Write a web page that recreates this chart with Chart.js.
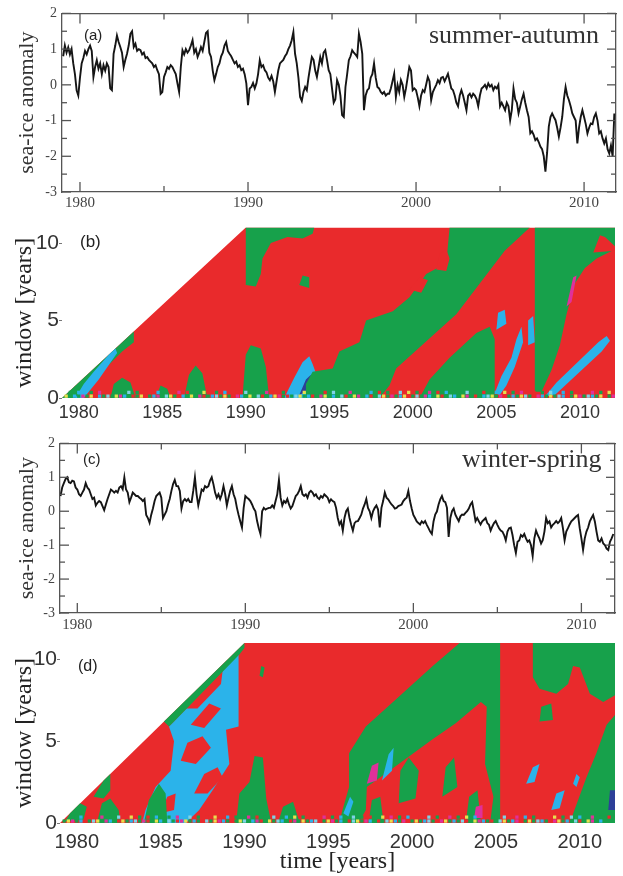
<!DOCTYPE html>
<html><head><meta charset="utf-8">
<script src="https://cdn.jsdelivr.net/npm/chart.js@4.4.1/dist/chart.umd.min.js"></script>
<style>
html,body{margin:0;padding:0;background:#fff;}
body{width:623px;height:876px;position:relative;overflow:hidden;}
canvas{position:absolute;left:0;}
.lab{position:absolute;white-space:nowrap;line-height:1;color:#222;}
.sans{font-family:'Liberation Sans',Arial,sans-serif;}
.serif{font-family:'Liberation Serif','Times New Roman',serif;color:#333;}
</style></head><body>
<canvas id="ca" width="623" height="215" style="top:0px"></canvas>
<canvas id="cb" width="623" height="215" style="top:215px"></canvas>
<canvas id="cc" width="623" height="210" style="top:430px"></canvas>
<canvas id="cd" width="623" height="246" style="top:630px"></canvas>
<div class="lab sans" style="left:84px;top:27px;font-size:15px">(a)</div>
<div class="lab serif" style="left:429px;top:22px;font-size:26px">summer-autumn</div>
<div class="lab sans" style="left:80px;top:233px;font-size:17px">(b)</div>
<div class="lab sans" style="left:83px;top:451px;font-size:15px">(c)</div>
<div class="lab serif" style="left:462px;top:446px;font-size:26px">winter-spring</div>
<div class="lab sans" style="left:78px;top:658px;font-size:16px">(d)</div>
<script>
// ---------------- time series (anomaly, every 0.1 year from 1979.0) ----------------
const seriesStart = 1979.0, seriesStep = 0.1;
const summerAutumn = [
 0.8,1.1,0.9,1.05,0.85,1.0,0.6,0.3,-0.15,-0.3,
 0.2,0.6,0.75,0.95,0.85,1.0,1.1,0.95,0.22,0.5,
 0.69,0.45,0.6,0.3,0.55,0.4,0.6,0.5,-0.1,-0.15,
 0.87,1.1,1.38,1.2,1.06,0.9,0.5,0.7,0.87,1.1,
 1.43,1.5,1.06,1.15,0.95,1.0,0.97,0.85,0.9,0.75,
 0.78,0.7,0.65,0.6,0.5,0.55,0.41,0.3,-0.25,-0.2,
 0.22,0.35,0.5,0.45,0.55,0.5,0.4,0.3,0.04,-0.2,
 0.5,0.97,0.85,1.0,0.9,0.97,1.1,1.25,0.9,1.0,
 0.78,0.9,1.06,0.95,1.2,1.45,1.5,0.9,0.78,0.4,
 0.13,0.3,0.5,0.6,0.8,0.9,1.1,1.2,0.95,0.87,
 0.8,0.7,0.6,0.65,0.5,0.55,0.41,0.45,0.3,0.04,
 -0.57,-0.1,-0.06,0.05,-0.1,0.04,0.3,0.69,0.5,0.55,
 0.41,0.35,0.2,0.13,0.25,0.1,-0.2,0.1,0.4,0.6,
 0.65,0.7,0.8,0.87,1.0,1.1,1.25,1.48,0.87,0.6,
 0.2,-0.34,-0.45,-0.2,-0.06,-0.15,0.2,0.5,0.78,0.7,
 0.4,0.22,0.5,0.78,0.6,0.9,0.97,0.7,0.41,0.3,
 -0.1,-0.5,-0.4,0.13,0.0,-0.3,-0.85,-0.9,-0.06,0.3,
 0.69,0.8,0.97,0.9,0.85,0.78,1.43,1.2,0.87,-0.71,
 -0.3,-0.15,-0.1,0.2,0.3,0.6,0.2,-0.06,-0.1,-0.2,
 -0.25,-0.2,-0.3,-0.25,-0.25,-0.1,0.1,0.31,-0.34,0.0,
 -0.2,0.13,0.0,-0.34,-0.1,0.2,0.5,0.4,-0.15,-0.1,
 -0.15,-0.35,-0.6,-0.3,-0.15,-0.2,0.0,0.22,0.1,-0.43,
 -0.2,-0.1,0.0,0.13,0.05,0.2,0.22,0.1,0.2,0.31,
 0.1,-0.1,-0.15,-0.3,-0.5,-0.6,-0.3,-0.15,-0.3,-0.5,
 -0.71,-0.3,-0.25,-0.35,-0.25,-0.3,-0.4,-0.6,-0.3,-0.1,
 -0.06,0.0,-0.1,0.04,-0.05,0.0,-0.15,-0.05,-0.1,0.0,
 -0.6,-0.5,-0.6,-0.71,-0.5,-0.6,-0.99,-0.7,-0.1,-0.4,
 -0.5,-0.8,-0.6,-0.4,-0.25,-0.5,-0.71,-0.9,-1.36,-1.3,
 -1.4,-1.55,-1.5,-1.6,-1.73,-1.8,-2.0,-2.43,-1.9,-1.17,
 -0.9,-0.8,-0.9,-0.99,-1.2,-1.45,-1.2,-0.9,-0.4,-0.06,
 -0.3,-0.43,-0.6,-0.8,-0.9,-1.0,-1.64,-1.2,-0.9,-0.71,
 -0.9,-1.1,-1.36,-1.2,-1.08,-1.1,-0.9,-0.8,-1.0,-1.36,
 -1.3,-1.5,-1.64,-1.5,-1.8,-1.92,-1.7,-2.0,-0.8
];
const winterSpring = [
 0.45,0.7,0.83,0.95,1.0,0.85,0.83,0.9,0.88,0.7,
 0.64,0.5,0.45,0.55,0.64,0.83,0.7,0.64,0.5,0.36,
 0.4,0.17,0.25,0.3,0.27,0.15,0.03,0.2,0.36,0.5,
 0.64,0.6,0.55,0.6,0.55,0.7,0.74,0.65,1.0,0.64,
 0.55,0.27,0.4,0.55,0.5,0.45,0.45,0.4,0.36,0.3,
 0.36,-0.11,-0.2,-0.34,-0.1,0.08,0.3,0.45,0.5,0.55,
 0.4,-0.2,-0.1,0.0,0.2,0.36,0.6,0.8,0.92,0.74,
 0.74,0.6,0.08,0.3,0.36,0.3,0.36,0.27,0.27,0.6,
 1.0,0.5,0.17,0.4,0.64,0.6,0.74,0.7,0.74,0.9,
 1.0,0.8,0.55,0.4,0.5,0.36,0.5,0.74,0.5,0.17,
 0.4,0.6,0.74,0.5,0.36,0.1,-0.11,-0.3,-0.48,0.1,
 0.45,0.4,0.36,0.3,0.2,0.08,0.0,-0.29,-0.5,-0.67,
 0.0,0.1,0.05,0.08,0.1,0.1,0.17,0.1,0.3,0.5,
 0.92,0.4,0.17,0.3,0.25,0.36,0.2,0.08,0.15,0.3,
 0.45,0.5,0.6,0.74,0.5,0.45,0.5,0.4,0.55,0.6,
 0.55,0.45,0.5,0.4,0.36,0.45,0.4,0.5,0.45,0.4,
 0.27,0.35,0.3,0.27,0.1,-0.2,-0.39,-0.3,-0.57,-0.2,
 0.0,0.08,-0.2,-0.4,-0.57,-0.35,-0.3,-0.29,-0.2,-0.1,
 0.08,0.2,0.36,0.1,0.0,-0.2,0.0,0.1,0.17,0.05,
 -0.48,0.1,0.3,0.55,0.4,0.35,0.27,0.2,0.15,0.08,
 0.1,0.15,0.17,0.2,0.3,0.36,0.4,0.6,0.3,0.08,
 -0.11,-0.2,-0.3,-0.35,-0.39,-0.3,-0.35,-0.29,-0.4,-0.5,
 -0.6,-0.67,-0.3,-0.1,-0.01,0.2,0.35,0.45,0.3,0.27,
 0.1,-0.76,-0.2,0.0,0.08,-0.1,-0.2,-0.29,-0.15,-0.1,
 -0.11,-0.05,0.0,0.08,0.2,0.27,0.0,-0.29,-0.2,-0.3,
 -0.39,-0.3,-0.25,-0.2,-0.35,-0.4,-0.57,-0.45,-0.35,-0.29,
 -0.4,-0.5,-0.57,-0.6,-0.7,-0.86,-0.6,-0.5,-0.48,-0.7,
 -1.0,-1.23,-0.9,-0.86,-0.7,-0.75,-0.67,-0.8,-0.9,-0.86,
 -1.0,-1.32,-0.8,-0.57,-0.7,-0.8,-0.95,-0.85,-0.6,-0.2,
 -0.35,-0.3,-0.48,-0.4,-0.35,-0.29,-0.35,-0.3,-0.2,-0.5,
 -0.86,-0.6,-0.5,-0.39,-0.3,-0.25,-0.2,-0.15,-0.11,-0.5,
 -0.8,-1.14,-0.8,-0.6,-0.48,-0.3,-0.2,-0.11,-0.3,-0.6,
 -0.86,-0.9,-0.8,-0.95,-1.0,-1.1,-1.14,-0.9,-0.8,-0.67
];
// ---------------- tick labels ----------------
const lineYearTicks = [1980, 1990, 2000, 2010];
const lineYearMinor = [1985, 1995, 2005];
const anomalyTicks = [-3, -2, -1, 0, 1, 2];
const anomalyMinor = [-2.5, -1.5, -0.5, 0.5, 1.5];
const heatYearTicks = [1980, 1985, 1990, 1995, 2000, 2005, 2010];
const windowTicks = [0, 5, 10];

// ---------------- window-analysis regions (time, window) ----------------
const bTriangle = [[1979,0],[1990,11],[2012.1,11],[2012.1,0]];
const bGreenEdge = [[1979,0],[1983.3,4.3],[1983.3,3.6],[1982.6,3.0],[1981.5,1.8],[1980.5,0.5],[1980.2,0]];
const bBlueEdge = [[1979.8,0],[1980.3,0],[1981.2,1.2],[1982.3,2.9],[1982.2,3.2],[1981.8,2.8],[1980.9,1.7],[1980.3,0.9]];
const bGreen1 = [[1981.9,0],[1982.1,0.9],[1982.6,1.3],[1983.1,1.0],[1983.4,0]];
const bGreen2 = [[1984.6,0],[1984.9,0.8],[1985.3,0.6],[1985.5,0]];
const bGreen3 = [[1986.3,0],[1986.6,1.5],[1987.0,2.1],[1987.4,1.6],[1987.7,0]];
const bGreen4 = [[1989.8,0],[1990.0,2.8],[1990.3,3.4],[1990.9,3.2],[1991.2,2.0],[1991.4,0]];
const bGreenTop = [[1990.0,11],[1990.0,7.3],[1990.6,7.2],[1990.9,8.0],[1991.0,9.0],[1991.5,10.0],[1992.5,10.4],[1993.4,10.3],[1994.0,10.6],[1994.1,11]];
const bGreenIsle = [[1993.2,7.3],[1993.4,7.9],[1993.8,7.8],[1993.8,7.1]];
const bBlueMid = [[1992.3,0],[1992.9,1.3],[1993.4,2.3],[1993.8,2.7],[1994.0,2.2],[1994.4,1.0],[1994.5,0]];
const bNavyMid = [[1993.2,0.2],[1993.6,1.2],[1993.9,1.5],[1993.8,0.5]];
const bGreenBand = [[1993.6,0],[1993.6,0.9],[1994.0,1.7],[1995.2,1.9],[1995.6,3.0],[1996.8,3.6],[1997.2,5.0],[1998.8,5.6],[1999.8,6.5],[2000.8,8.0],[2002.0,8.7],[2002.2,11],[2007.0,11],[2005.5,9.5],[2002.6,5.4],[1999.0,1.9],[1998.6,0.8],[1998.0,0]];
const bRedIsle1 = [[2001.4,8.3],[2001.6,9.3],[2002.0,9.6],[2002.2,9.0],[2002.0,8.2]];
const bRedIsle2 = [[1999.8,7.0],[2000.4,7.8],[2000.9,7.6],[2000.5,6.8]];
const bGreenLow = [[2000.4,0],[2001.0,1.2],[2002.2,2.6],[2003.8,4.2],[2004.6,4.6],[2004.9,3.8],[2004.9,0]];
const bBlueS1 = [[2004.9,0.3],[2005.3,1.4],[2005.9,2.6],[2006.2,3.8],[2006.5,4.6],[2006.6,3.6],[2006.1,2.0],[2005.6,0.8],[2005.2,0.2]];
const bBlueS2 = [[2006.9,3.4],[2006.9,5.0],[2007.2,5.3],[2007.3,3.6]];
const bBlueS3 = [[2005.0,4.4],[2005.1,5.5],[2005.5,5.7],[2005.6,4.8]];
const bGreenRight = [[2007.3,11],[2007.3,0.4],[2007.7,0.4],[2008.3,1.8],[2008.8,3.4],[2009.2,5.4],[2009.7,7.4],[2010.3,8.4],[2011.0,9.0],[2012.1,9.6],[2012.1,11]];
const bRedTongue = [[2010.8,9.4],[2011.2,10.5],[2011.5,10.4],[2012.1,9.8],[2012.1,9.5]];
const bMagenta = [[2009.2,5.9],[2009.6,7.8],[2009.8,7.9],[2009.5,6.2]];
const bBlueDiag = [[2007.9,0.1],[2008.5,0.2],[2011.3,3.0],[2011.8,3.7],[2011.6,4.0],[2011.1,3.6],[2008.6,1.0]];
const bNoiseLow  = "ygbgmgyrbgcgymbgrgyrgbmgcygrbgygmrgbcgygrmbgygcrgbymgrgcygbrgmygbgcrgymgbrgcygmgbyrgcgmbgyrgcbgymgrgbcygmrgbgycgrmbgygcbrgymgcbgyrgm";
const bNoiseHigh = ".g.b..g.m.r.g..c.g.r..b.g..m.r.g.y..g.b..r.c.g..m.r.g.b..y.g..r.c.g.m..g.b.r.g..c.y.g..m.r.b.g..c.g.r..b.y.g.m..r.g.c..b.g.r..m.g.y.b";

const dTriangle = [[1979,0],[1990,11],[2012.1,11],[2012.1,0]];
const dBlue = [[1983.9,0],[1984.1,0.8],[1984.7,2.2],[1985.6,3.2],[1985.8,5.0],[1985.5,5.9],[1985.8,6.2],[1989.65,10.3],[1989.65,5.9],[1988.9,5.7],[1989.1,3.6],[1988.1,2.0],[1987.3,0.8],[1986.5,0]];
const dRed1 = [[1986.3,7.0],[1987.9,8.7],[1988.7,9.3],[1988.6,8.5],[1987.2,7.0]];
const dRed2 = [[1986.8,6.0],[1987.9,7.3],[1988.6,7.0],[1987.6,5.8]];
const dRed3 = [[1986.2,3.8],[1986.6,4.9],[1987.5,5.3],[1988.0,4.6],[1987.1,3.6]];
const dRed4 = [[1987.0,1.8],[1987.6,3.0],[1988.4,3.4],[1988.7,2.8],[1987.8,1.8]];
const dRed5 = [[1985.0,0.6],[1985.4,1.6],[1985.9,1.8],[1985.8,0.8]];
const dGreenDiag = [[1985.2,6.2],[1990.0,11.0],[1990.0,10.7],[1989.7,10.3],[1985.8,6.2],[1985.5,5.9]];
const dGreen1 = [[1979.3,0.1],[1979.6,0.6],[1980.2,1.2],[1980.6,1.0],[1980.4,0.2]];
const dGreen2 = [[1981.0,1.6],[1981.6,2.6],[1982.0,3.0],[1982.0,2.0],[1981.6,1.5]];
const dGreen3 = [[1981.2,0],[1981.5,1.2],[1982.0,1.5],[1982.5,0.8],[1982.6,0]];
const dGreen4 = [[1984.0,0],[1984.3,1.4],[1984.9,2.4],[1985.3,1.8],[1985.4,0]];
const dGreen5 = [[1989.5,0],[1989.7,1.8],[1990.3,2.5],[1990.6,4.1],[1991.1,4.0],[1991.3,1.5],[1991.6,0]];
const dGreen6 = [[1992.0,0],[1992.3,1.0],[1992.9,1.3],[1993.3,0]];
const dGreen7 = [[1990.9,9.0],[1991.0,9.6],[1991.2,9.5],[1991.1,8.9]];
const dGreenBand = [[1995.65,0],[1995.84,0.77],[1996.24,2.2],[1996.24,4.26],[1997.24,5.9],[1999.24,7.74],[2001.23,9.6],[2002.83,11.0],[2005.25,11.0],[2005.25,0]];
const dRedLower = [[1996.8,0],[1997.24,0.8],[1997.3,2.2],[1999.2,3.6],[2001.2,5.1],[2002.6,6.1],[2004.1,7.4],[2004.45,7.1],[2004.35,3.6],[2004.85,1.6],[2004.65,0]];
const dGreenIsle1 = [[1999.2,1.2],[1999.3,3.2],[1999.8,4.0],[2000.4,3.2],[2000.2,1.5]];
const dGreenIsle2 = [[2001.8,1.6],[2002.0,3.4],[2002.5,4.0],[2002.7,2.2]];
const dGreenIsle3 = [[1997.4,0],[1997.6,1.4],[1998.1,1.6],[1998.3,0]];
const dGreenIsle4 = [[2003.2,0],[2003.4,1.6],[2003.9,2.0],[2004.1,0]];
const dMagenta1 = [[1997.3,2.4],[1997.6,3.5],[1998.0,3.7],[1997.9,2.6]];
const dMagenta2 = [[2003.7,0.3],[2003.8,1.0],[2004.2,1.1],[2004.2,0.3]];
const dBlue2 = [[1998.2,2.6],[1998.6,4.2],[1998.9,4.6],[1998.8,3.2]];
const dBlue3 = [[1995.9,0.6],[1996.3,1.6],[1996.5,1.3],[1996.2,0.4]];
const dGreenTopRight = [[2007.2,11],[2012.1,11],[2012.1,7.8],[2011.4,7.4],[2010.6,7.9],[2010.0,9.5],[2009.6,9.6],[2009.3,8.5],[2008.6,7.9],[2007.6,8.2],[2007.2,8.9]];
const dGreenBlob = [[2007.6,6.2],[2007.7,7.1],[2008.3,7.3],[2008.4,6.3]];
const dGreenLowerRight = [[2009.4,0],[2012.1,0],[2012.1,6.6],[2011.6,6.0],[2011.0,4.3],[2010.4,2.8],[2009.9,1.4]];
const dBlue4 = [[2006.8,2.4],[2007.2,3.4],[2007.6,3.6],[2007.3,2.5]];
const dBlue5 = [[2008.3,0.8],[2008.6,1.8],[2009.1,2.0],[2008.8,0.9]];
const dBlue6 = [[2009.6,2.4],[2009.8,3.0],[2010.0,2.8],[2009.8,2.2]];
const dNavy = [[2011.7,0.8],[2011.8,2.0],[2012.1,2.0],[2012.1,0.8]];
const dNoiseLow  = "gymgbrgcygmbgrygbcgmrgybgcgrmygbgrcgymbgrgycgbmrgygcbgrmgygbcrgymgbgrcygmbgrgcybgmrgygbcgrmygbgcrgymbgrgcygbmrgygcbgrmygbgcrgymgb";
const dNoiseHigh = "..g.b.r..m.g.c..y.g.r.b..g.m..c.g.r.y..b.g..m.r.g.c..b.y.g..r.m.g.b..c.g.r..y.m.g.b..r.c.g..m.g.y.b..r.g.c..m.b.g.r..y.g.c.b..m.g.r";
const noiseStart = 1979.25, noiseStep = 0.25, noiseLowW = 0.12, noiseHighW = 0.36;

// ---------------- styling ----------------
const colours = {red:'#e92a2c', green:'#17a14b', blue:'#2bb3ea', magenta:'#e0309a', navy:'#2d3f98', yellow:'#e8df4e', cyan:'#7fd3e6'};
const codeColour = {g:'green', b:'blue', y:'yellow', m:'magenta', d:'navy', c:'cyan', r:'red'};
const SERIF = "'Liberation Serif','Times New Roman',serif";
const SANS = "'Liberation Sans',Arial,sans-serif";

const frameTicks = {
  id: 'frameTicks',
  afterDraw(chart, args, o) {
    if (!o || !o.on) return;
    const {ctx, chartArea: a, scales: {x, y}} = chart;
    ctx.save(); ctx.strokeStyle = '#555'; ctx.lineWidth = 1.3;
    const seg = (x1, y1, x2, y2) => { ctx.beginPath(); ctx.moveTo(x1, y1); ctx.lineTo(x2, y2); ctx.stroke(); };
    const xt = (vals, len) => vals.forEach(v => { const p = x.getPixelForValue(v); seg(p, a.bottom, p, a.bottom - len); seg(p, a.top, p, a.top + len); });
    const yt = (vals, len) => vals.forEach(v => { const p = y.getPixelForValue(v); seg(a.left, p, a.left + len, p); seg(a.right, p, a.right - len, p); });
    xt(lineYearTicks, 10); xt(lineYearMinor, 6); yt(anomalyTicks, 9); yt(anomalyMinor, 5);
    ctx.restore();
  }
};

function lineChart(id, values, xmin, xmax, box, labelPad) {
  const pts = values.map((v, i) => ({x: seriesStart + i * seriesStep, y: v}));
  return new Chart(document.getElementById(id), {
    type: 'scatter',
    data: {datasets: [{data: pts, showLine: true, borderColor: '#151515', borderWidth: 1.9, pointRadius: 0, tension: 0, borderJoinStyle: 'miter'}]},
    options: {
      responsive: false, animation: false, devicePixelRatio: 1,
      layout: {padding: 0},
      plugins: {legend: {display: false}, tooltip: {enabled: false}, frameTicks: {on: true}},
      scales: {
        x: {type: 'linear', position: 'bottom', min: xmin, max: xmax,
            afterBuildTicks: s => { s.ticks = lineYearTicks.map(v => ({value: v})); },
            ticks: {font: {family: SERIF, size: 15}, color: '#444', padding: labelPad, maxRotation: 0, autoSkip: false, callback: v => String(v)},
            grid: {display: true, drawOnChartArea: false, drawTicks: false},
            border: {display: true, color: '#555', width: 1.3},
            afterFit: s => { s.height = box.bottom; }},
        x2: {type: 'linear', position: 'top', min: xmin, max: xmax,
            ticks: {display: false}, grid: {display: true, drawOnChartArea: false, drawTicks: false},
            border: {display: true, color: '#555', width: 1.3},
            afterFit: s => { s.height = box.top; }},
        y: {type: 'linear', position: 'left', min: -3, max: 2,
            afterBuildTicks: s => { s.ticks = anomalyTicks.map(v => ({value: v})); },
            ticks: {font: {family: SERIF, size: 14}, color: '#444', padding: 5},
            grid: {display: true, drawOnChartArea: false, drawTicks: false},
            border: {display: true, color: '#555', width: 1.3},
            title: {display: true, text: 'sea-ice anomaly', font: {family: SERIF, size: 22}, color: '#333', padding: {top: 14, bottom: 0}},
            afterFit: s => { s.width = box.left; }},
        y2: {type: 'linear', position: 'right', min: -3, max: 2,
            ticks: {display: false}, grid: {display: true, drawOnChartArea: false, drawTicks: false},
            border: {display: true, color: '#555', width: 1.3},
            afterFit: s => { s.width = box.right; }}
      }
    },
    plugins: [frameTicks]
  });
}

function shape(pts) {
  let li = 0, ri = 0;
  pts.forEach((p, i) => { if (p[0] < pts[li][0]) li = i; if (p[0] > pts[ri][0]) ri = i; });
  const rot = pts.slice(li).concat(pts.slice(0, li));
  return rot.concat([pts[li], pts[ri]]).map(p => ({x: p[0], y: p[1]}));
}

function noisePoints(str, w) {
  const data = [], cols = [];
  for (let i = 0; i < str.length; i++) {
    const c = str[i];
    if (!codeColour[c]) continue;
    const t = noiseStart + i * noiseStep;
    if (t > 2012.0) break;
    data.push({x: t, y: w}); cols.push(colours[codeColour[c]]);
  }
  return {data, showLine: false, pointStyle: 'rect', pointRadius: 2.3, pointBackgroundColor: cols, pointBorderWidth: 0, pointBorderColor: 'rgba(0,0,0,0)'};
}

function heatChart(id, layers, noiseLow, noiseHigh, box, xFont, labelPad, xTitle) {
  const ds = layers.map(([col, pts]) => ({
    data: shape(pts), showLine: true, fill: 'shape', backgroundColor: colours[col],
    borderColor: 'rgba(0,0,0,0)', borderWidth: 0, pointRadius: 0, tension: 0
  }));
  ds.push(noisePoints(noiseLow, noiseLowW));
  ds.push(noisePoints(noiseHigh, noiseHighW));
  ds.forEach((d, i) => { d.order = ds.length - i; });
  return new Chart(document.getElementById(id), {
    type: 'scatter',
    data: {datasets: ds},
    options: {
      responsive: false, animation: false, devicePixelRatio: 1,
      layout: {padding: {top: box.top, right: box.right, left: 0, bottom: 0}},
      plugins: {legend: {display: false}, tooltip: {enabled: false}},
      scales: {
        x: {type: 'linear', position: 'bottom', min: 1979, max: 2012.1,
            afterBuildTicks: s => { s.ticks = heatYearTicks.map(v => ({value: v})); },
            ticks: {font: {family: SANS, size: xFont}, color: '#333', padding: labelPad, maxRotation: 0, autoSkip: false, callback: v => String(v)},
            grid: {display: false, drawTicks: false}, border: {display: false},
            title: xTitle ? {display: true, text: xTitle, font: {family: SERIF, size: 24}, color: '#222', padding: {top: 0, bottom: 0}} : {display: false},
            afterFit: s => { s.height = box.bottom; }},
        y: {type: 'linear', position: 'left', min: 0, max: 11,
            afterBuildTicks: s => { s.ticks = windowTicks.map(v => ({value: v})); },
            ticks: {font: {family: SANS, size: 21}, color: '#333', padding: 0},
            grid: {display: true, drawOnChartArea: false, drawTicks: true, tickLength: 3, color: '#777'},
            border: {display: false},
            title: {display: true, text: 'window [years]', font: {family: SERIF, size: 24}, color: '#222', padding: {top: 10, bottom: 0}},
            afterFit: s => { s.width = box.left; }}
      }
    }
  });
}

lineChart('ca', summerAutumn, 1978.93, 2011.9, {left: 62, right: 7, top: 13, bottom: 23}, 2.5);
lineChart('cc', winterSpring, 1978.97, 2012.0, {left: 60, right: 8, top: 5, bottom: 27}, 3);

heatChart('cb', [
  ['red', bTriangle], ['green', bGreenEdge], ['blue', bBlueEdge],
  ['green', bGreen1], ['green', bGreen2], ['green', bGreen3], ['green', bGreen4],
  ['green', bGreenTop], ['green', bGreenIsle], ['blue', bBlueMid], ['navy', bNavyMid],
  ['green', bGreenBand], ['red', bRedIsle1], ['red', bRedIsle2], ['green', bGreenLow],
  ['blue', bBlueS1], ['blue', bBlueS2], ['blue', bBlueS3], ['green', bGreenRight],
  ['red', bRedTongue], ['magenta', bMagenta], ['blue', bBlueDiag]
], bNoiseLow, bNoiseHigh, {left: 62, right: 8, top: 5, bottom: 32}, 18, 4, null);

heatChart('cd', [
  ['red', dTriangle], ['blue', dBlue], ['red', dRed1], ['red', dRed2], ['red', dRed3], ['red', dRed4], ['red', dRed5],
  ['green', dGreenDiag], ['green', dGreen1], ['green', dGreen2], ['green', dGreen3], ['green', dGreen4],
  ['green', dGreen5], ['green', dGreen6], ['green', dGreen7], ['green', dGreenBand], ['red', dRedLower],
  ['green', dGreenIsle1], ['green', dGreenIsle2], ['green', dGreenIsle3], ['green', dGreenIsle4],
  ['magenta', dMagenta1], ['magenta', dMagenta2], ['blue', dBlue2], ['blue', dBlue3],
  ['green', dGreenTopRight], ['green', dGreenBlob], ['green', dGreenLowerRight],
  ['blue', dBlue4], ['blue', dBlue5], ['blue', dBlue6], ['navy', dNavy]
], dNoiseLow, dNoiseHigh, {left: 60, right: 8, top: 13, bottom: 53}, 20, 7.5, 'time [years]');
</script>
</body></html>
